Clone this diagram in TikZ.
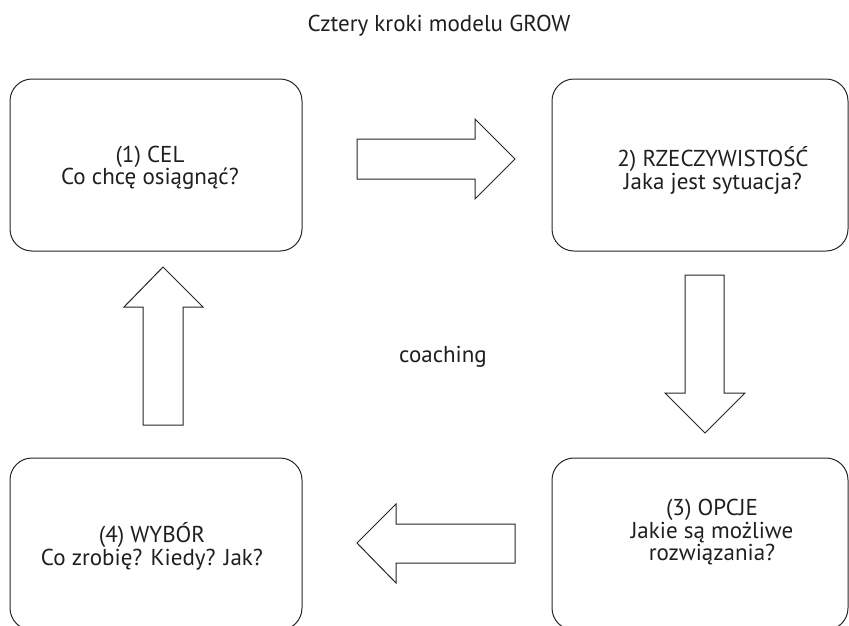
\documentclass[tikz,border=0pt]{standalone}
\usepackage{fontspec}
\setmainfont{PT Sans}
\begin{document}
\begin{tikzpicture}[x=1pt,y=-1pt,
  stepbox/.style={draw=black!85, line width=1pt, rounded corners=22pt, minimum width=292pt, minimum height=172pt, inner sep=0pt},
  steptext/.style={align=center, text=black!88, font=\fontsize{23}{22.5}\selectfont},
  blockarrow/.style={draw=black!85, line width=1pt, fill=white, line join=miter}]
\useasboundingbox (0,0) rectangle (849,625);
\clip (0,0) rectangle (849,625);

% title and centre label
\node[steptext, anchor=base] (title) at (439,31) {Cztery kroki modelu GROW};
\node[steptext, anchor=base] (coach) at (443,362) {coaching};

% the four steps
\node[stepbox] (cel)   at (156,165) {};
\node[stepbox, minimum width=296pt] (rzecz) at (700,165) {};
\node[stepbox, minimum width=296pt] (opcje) at (700,544) {};
\node[stepbox] (wybor) at (156,544) {};

\node[steptext] (celtxt)   at (150,167.5) {(1) CEL\\Co chcę osiągnąć?};
\node[steptext] (rzecztxt) at (713,170.5) {2) RZECZYWISTOŚĆ\\Jaka jest sytuacja?};
\node[steptext] (opcjetxt) at (712,532.5) {(3) OPCJE\\Jakie są możliwe\\rozwiązania?};
\node[steptext] (wybortxt) at (152,546.5) {(4) WYBÓR\\Co zrobię? Kiedy? Jak?};

% block arrows between the steps
\draw[blockarrow] (357,139) -- (475,139) -- (475,119) -- (515,159) -- (475,199) -- (475,179) -- (357,179) -- cycle;
\draw[blockarrow] (685,275) -- (724,275) -- (724,393) -- (745,393) -- (705,433) -- (665,393) -- (685,393) -- cycle;
\draw[blockarrow] (515,524) -- (396,524) -- (396,504) -- (357,543) -- (396,583) -- (396,563) -- (515,563) -- cycle;
\draw[blockarrow] (143,425) -- (143,307) -- (124,307) -- (163,267) -- (203,307) -- (183,307) -- (183,425) -- cycle;
\end{tikzpicture}
\end{document}
